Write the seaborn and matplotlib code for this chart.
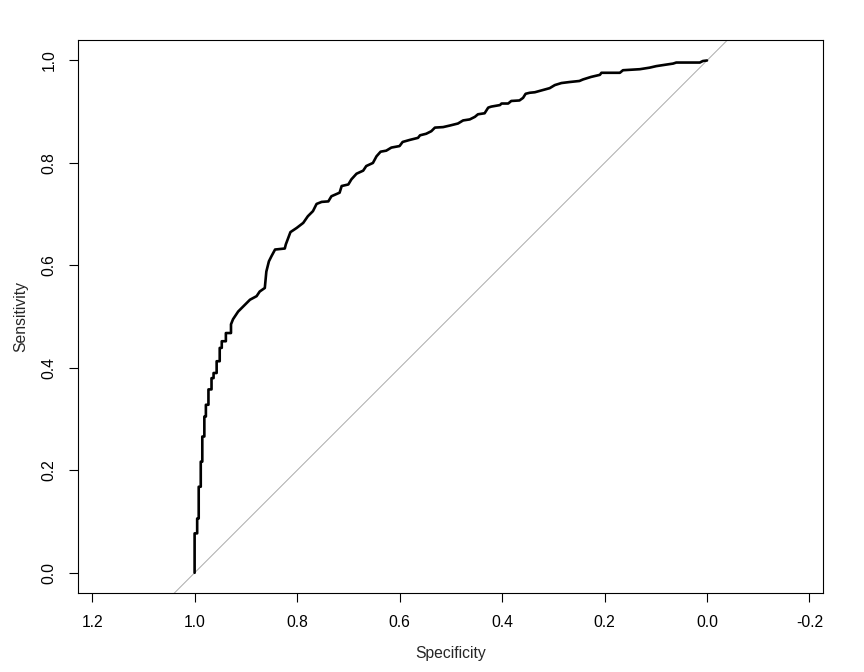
import pandas as pd
import seaborn as sns
import matplotlib
matplotlib.use('Agg')
import matplotlib.pyplot as plt

# ROC curve points (specificity, sensitivity)
specificity = [
    1.000, 1.000, 0.995, 0.995, 0.992, 0.992, 0.988, 0.988, 0.985, 0.985,
    0.981, 0.981, 0.978, 0.978, 0.973, 0.973, 0.967, 0.967, 0.963, 0.963,
    0.957, 0.957, 0.951, 0.951, 0.947, 0.947, 0.939, 0.939, 0.929, 0.929,
    0.925, 0.915, 0.908, 0.899, 0.892, 0.879, 0.873, 0.863, 0.860, 0.855,
    0.850, 0.843, 0.824, 0.822, 0.813, 0.801, 0.788, 0.779, 0.769, 0.762,
    0.752, 0.739, 0.733, 0.717, 0.713, 0.700, 0.694, 0.684, 0.671, 0.665,
    0.652, 0.645, 0.637, 0.626, 0.616, 0.600, 0.594, 0.580, 0.564, 0.560,
    0.548, 0.538, 0.531, 0.515, 0.502, 0.486, 0.476, 0.463, 0.453, 0.447,
    0.434, 0.427, 0.421, 0.404, 0.401, 0.388, 0.382, 0.366, 0.359, 0.354,
    0.346, 0.336, 0.307, 0.297, 0.284, 0.268, 0.249, 0.242, 0.226, 0.209,
    0.206, 0.186, 0.170, 0.164, 0.131, 0.112, 0.099, 0.086, 0.066, 0.060,
    0.014, 0.008, 0.000,
]
sensitivity = [
    0.000, 0.077, 0.077, 0.106, 0.106, 0.168, 0.168, 0.217, 0.217, 0.266,
    0.266, 0.305, 0.305, 0.328, 0.328, 0.358, 0.358, 0.380, 0.380, 0.390,
    0.390, 0.413, 0.413, 0.439, 0.439, 0.452, 0.452, 0.468, 0.468, 0.485,
    0.495, 0.510, 0.517, 0.526, 0.533, 0.540, 0.549, 0.556, 0.588, 0.608,
    0.618, 0.631, 0.633, 0.641, 0.665, 0.673, 0.683, 0.696, 0.706, 0.720,
    0.724, 0.725, 0.735, 0.742, 0.755, 0.758, 0.768, 0.779, 0.785, 0.794,
    0.800, 0.813, 0.822, 0.824, 0.830, 0.833, 0.841, 0.845, 0.849, 0.854,
    0.857, 0.862, 0.869, 0.870, 0.873, 0.877, 0.883, 0.885, 0.890, 0.895,
    0.897, 0.908, 0.910, 0.913, 0.916, 0.916, 0.921, 0.922, 0.927, 0.935,
    0.937, 0.938, 0.946, 0.952, 0.956, 0.958, 0.960, 0.963, 0.968, 0.972,
    0.976, 0.976, 0.976, 0.981, 0.983, 0.986, 0.989, 0.991, 0.994, 0.996,
    0.996, 0.999, 1.000,
]

x_ticks = [1.2, 1.0, 0.8, 0.6, 0.4, 0.2, 0.0, -0.2]
y_ticks = [0.0, 0.2, 0.4, 0.6, 0.8, 1.0]

roc_df = pd.DataFrame({'Specificity': specificity, 'Sensitivity': sensitivity})

sns.set_style('ticks')
plt.rcParams['font.family'] = ['Liberation Sans', 'DejaVu Sans']

fig = plt.figure(figsize=(8.64, 6.72), dpi=100)
ax = fig.add_axes([78.3 / 864, 1 - 593.3 / 672, 745 / 864, 553.3 / 672])

# chance line
ax.axline((1, 0), (0, 1), color='#ababab', lw=0.7, zorder=1)

sns.lineplot(data=roc_df, x='Specificity', y='Sensitivity', sort=False,
             estimator=None, color='black', lw=1.9, ax=ax, zorder=3)

ax.set_xlim(1.227, -0.227)
ax.set_ylim(-0.04, 1.04)

ax.set_xticks(x_ticks)
ax.set_xticklabels([f'{t:.1f}' for t in x_ticks])
ax.set_yticks(y_ticks)
ax.set_yticklabels([f'{t:.1f}' for t in y_ticks], rotation=90, va='center')

ax.tick_params(axis='both', direction='out', length=6.5, width=0.8,
               pad=9, labelsize=11.3, colors='black')
for s in ax.spines.values():
    s.set_visible(True)
    s.set_linewidth(0.8)
    s.set_color('black')

ax.set_xlabel('Specificity', fontsize=11.3, labelpad=12)
ax.set_ylabel('Sensitivity', fontsize=11.3, labelpad=10)

fig.savefig('out.png', dpi=100)
